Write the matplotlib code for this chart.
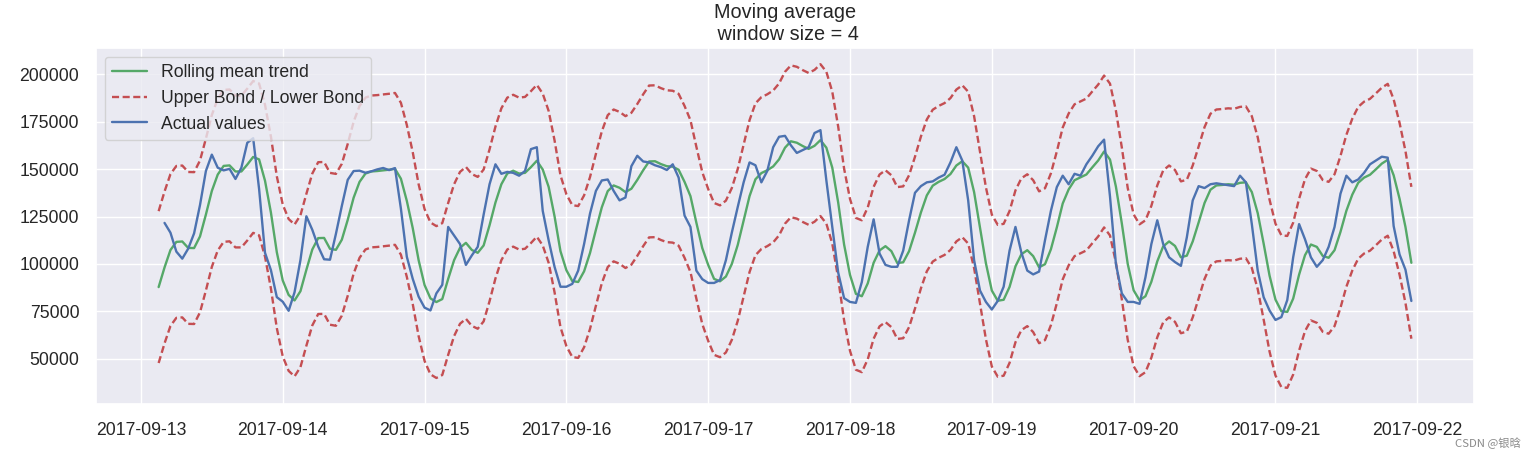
# Moving average chart with band around the rolling mean
# hourly values

import pandas as pd
import matplotlib
matplotlib.use("Agg")
import matplotlib.pyplot as plt
import matplotlib.dates as mdates
import seaborn as sns

# ================= data : one list per day (hour 00 .. 23) =================
ads_0913 = [80115, 79885, 89325, 101930, 121630, 116475, 106495, 102795,
            108055, 116125, 131030, 149020, 157590, 150715, 149295, 150100,
            144780, 150690, 163840, 166235, 139520, 105895, 96780, 82520]
ads_0914 = [80125, 75335, 85105, 102080, 125135, 118030, 109225, 102475,
            102240, 115840, 130540, 144325, 148970, 149150, 148040, 148810,
            149830, 150570, 149440, 150520, 129130, 103815, 92175, 82765]
ads_0915 = [77000, 75500, 84500, 89000, 119500, 115000, 110500, 99500,
            104500, 109000, 126000, 142000, 152500, 147500, 148500, 148000,
            146500, 149000, 160500, 161500, 128000, 112500, 98500, 88000]
ads_0916 = [88000, 89500, 96500, 110500, 126500, 138500, 144000, 144500,
            138500, 133500, 135000, 151500, 157000, 154000, 153500, 152000,
            151000, 149500, 152500, 145500, 125500, 119500, 96500, 92000]
ads_0917 = [90000, 90000, 91500, 102000, 116500, 130000, 143000, 153500,
            152000, 143000, 149000, 161500, 167000, 167500, 162500, 158500,
            160000, 161500, 169000, 170500, 144000, 119500, 95500, 82000]
ads_0918 = [80000, 79500, 90500, 109000, 123500, 105500, 99500, 98500,
            98500, 107000, 123000, 137500, 141000, 143000, 143500, 145500,
            147000, 153500, 161500, 154500, 133500, 102000, 86000, 80000]
ads_0919 = [76000, 80500, 88000, 107000, 119500, 106000, 96500, 94500,
            96000, 112500, 128000, 140500, 146500, 142000, 147500, 146500,
            152500, 157000, 162000, 165500, 135500, 100000, 84500, 80000]
ads_0920 = [80000, 79000, 93000, 110500, 123000, 110500, 103500, 101000,
            99000, 114000, 133500, 141000, 140000, 142000, 142500, 142000,
            141500, 141000, 146500, 143000, 121000, 96500, 82500, 75500]
ads_0921 = [70500, 72000, 81000, 103500, 121000, 113000, 103500, 98500,
            102000, 109000, 119500, 137000, 146500, 143000, 144500, 148000,
            152500, 154500, 156500, 156000, 120000, 105000, 97000, 80500]

window = 4
band_width = 40000   # distance of the dashed lines from the trend

values = (ads_0913 + ads_0914 + ads_0915 + ads_0916 + ads_0917 +
          ads_0918 + ads_0919 + ads_0920 + ads_0921)
series = pd.Series(values, index=pd.date_range("2017-09-13", periods=len(values), freq="h"))

rolling_mean = series.rolling(window=window).mean()
upper_bond = rolling_mean + band_width
lower_bond = rolling_mean - band_width

# ================= style =================
sns.set_theme(style="darkgrid", color_codes=True)
plt.rcParams['font.family'] = ['Liberation Sans', 'DejaVu Sans']

fig = plt.figure(figsize=(15.34, 4.57), dpi=100)
ax = fig.add_axes([96 / 1534, 1 - 404 / 457, 1378 / 1534, 356 / 457])

lw = 1.7
ax.plot(rolling_mean, "g", lw=lw, label="Rolling mean trend")
ax.plot(upper_bond, "r--", lw=lw, dashes=(3.0, 1.5), label="Upper Bond / Lower Bond")
ax.plot(lower_bond, "r--", lw=lw, dashes=(3.0, 1.5))
ax.plot(series[window:], "b", lw=lw, label="Actual values")

ax.set_title("Moving average\n window size = %d" % window, fontsize=14.3, color=".15")
ax.legend(loc="upper left", fontsize=12.7)

ax.xaxis.set_major_locator(mdates.DayLocator())
ax.xaxis.set_major_formatter(mdates.DateFormatter("%Y-%m-%d"))
ax.tick_params(axis="both", labelsize=12.7, length=0, colors=".15")
ax.tick_params(axis="x", pad=13)
ax.tick_params(axis="y", pad=12)

fig.text(0.9915, 0.031, "CSDN @银晗", ha="right", va="center", fontsize=8.2,
         color="#8a8a8a", family=['Noto Sans CJK SC', 'DejaVu Sans'])

plt.savefig("out.png", dpi=100)
print("Saved out.png")
